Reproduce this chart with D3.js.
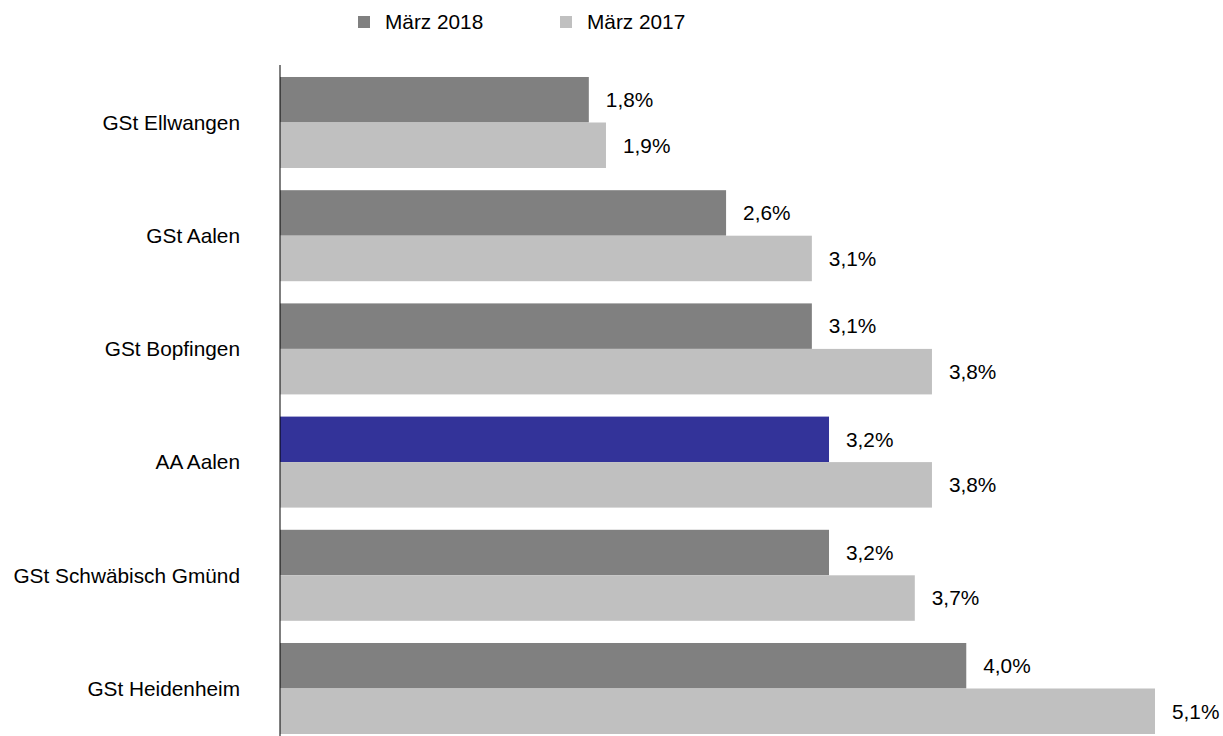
<!DOCTYPE html>
<html>
<head>
<meta charset="utf-8">
<script src="https://cdn.jsdelivr.net/npm/d3@7"></script>
<style>
  body { margin: 0; background: #fff; }
  text { font-family: Arial, "Liberation Sans", sans-serif; fill: #000; }
</style>
</head>
<body>
<div id="chart"></div>
<script>
// Data
const categories = ["GSt Ellwangen", "GSt Aalen", "GSt Bopfingen", "AA Aalen", "GSt Schwäbisch Gmünd", "GSt Heidenheim"]
const seriesNames = ["März 2018", "März 2017"]
const values2018 = [1.8, 2.6, 3.1, 3.2, 3.2, 4.0]
const values2017 = [1.9, 3.1, 3.8, 3.8, 3.7, 5.1]
const highlight = "AA Aalen"

const width = 1223
const height = 736
const fontSize = "20.8px"

const svg = d3.select("#chart")
    .append("svg")
    .attr("width", width)
    .attr("height", height)

// Scales
const x = d3.scaleLinear()
    .domain([0, 5.1])
    .range([280, 1155])

const y = d3.scaleBand()
    .domain(categories)
    .range([65.9, 65.9 + 6 * 113.2])
    .paddingInner(0.196)
    .paddingOuter(0.098)

const ySub = d3.scaleBand()
    .domain(seriesNames)
    .range([0, y.bandwidth()])

const colors = {"März 2018": "#808080", "März 2017": "#c0c0c0"}
const fmt = v => d3.format(".1f")(v).replace(".", ",") + "%"

// Build rows
const rows = categories.map((c, i) => ({
    category: c,
    bars: [
        {series: seriesNames[0], value: values2018[i]},
        {series: seriesNames[1], value: values2017[i]}
    ]
}))

const groups = svg.selectAll("g.group")
    .data(rows)
    .enter()
    .append("g")
    .attr("class", "group")
    .attr("transform", d => `translate(0, ${y(d.category)})`)

groups.selectAll("rect")
    .data(d => d.bars.map(b => ({...b, category: d.category})))
    .enter()
    .append("rect")
    .attr("x", x(0))
    .attr("y", d => ySub(d.series))
    .attr("width", d => x(d.value) - x(0))
    .attr("height", ySub.bandwidth())
    .attr("fill", d => (d.category === highlight && d.series === seriesNames[0]) ? "#333399" : colors[d.series])

groups.selectAll("text.value")
    .data(d => d.bars)
    .enter()
    .append("text")
    .attr("class", "value")
    .attr("x", d => x(d.value) + 17)
    .attr("y", d => ySub(d.series) + ySub.bandwidth() / 2)
    .attr("dy", "0.35em")
    .attr("font-size", fontSize)
    .text(d => fmt(d.value))

// Category labels
svg.selectAll("text.cat")
    .data(categories)
    .enter()
    .append("text")
    .attr("class", "cat")
    .attr("x", 240)
    .attr("y", d => y(d) + y.bandwidth() / 2)
    .attr("dy", "0.35em")
    .attr("text-anchor", "end")
    .attr("font-size", fontSize)
    .text(d => d)

// Axis line
svg.append("line")
    .attr("x1", x(0))
    .attr("x2", x(0))
    .attr("y1", 65)
    .attr("y2", height)
    .attr("stroke", "#000")
    .attr("stroke-width", 1)

// Legend
const legendX = [358, 560]
const legend = svg.selectAll("g.legend")
    .data(seriesNames)
    .enter()
    .append("g")
    .attr("class", "legend")
    .attr("transform", (d, i) => `translate(${legendX[i]}, 16)`)

legend.append("rect")
    .attr("width", 12)
    .attr("height", 12)
    .attr("fill", d => colors[d])

legend.append("text")
    .attr("x", 27)
    .attr("y", 6)
    .attr("dy", "0.35em")
    .attr("font-size", fontSize)
    .text(d => d)
</script>
</body>
</html>
